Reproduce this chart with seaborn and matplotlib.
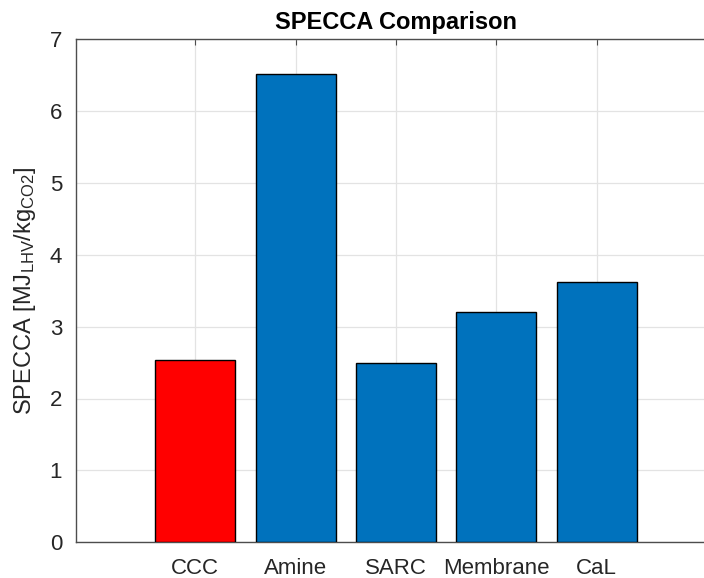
import matplotlib
matplotlib.use("Agg")
import matplotlib.pyplot as plt
import seaborn as sns
import pandas as pd

categories = ["CCC", "Amine", "SARC", "Membrane", "CaL"]
specca = [2.53, 6.51, 2.50, 3.20, 3.62]
bar_colors = ["#FF0000", "#0072BD", "#0072BD", "#0072BD", "#0072BD"]
y_ticks = [0, 1, 2, 3, 4, 5, 6, 7]

sns.set_style("white")
plt.rcParams["font.family"] = ["Liberation Sans", "DejaVu Sans"]
plt.rcParams["mathtext.fontset"] = "custom"
plt.rcParams["mathtext.rm"] = "Liberation Sans"
plt.rcParams["mathtext.it"] = "Liberation Sans:italic"
plt.rcParams["mathtext.bf"] = "Liberation Sans:bold"

df = pd.DataFrame({"tech": categories, "specca": specca})

fig = plt.figure(figsize=(7.04, 5.78), dpi=100)
ax = fig.add_axes([76 / 704, (578 - 542.3) / 578, 640 / 704, (542.3 - 39) / 578])

sns.barplot(data=df, x="tech", y="specca", hue="tech", palette=bar_colors,
            legend=False, width=0.8, saturation=1, edgecolor="black",
            linewidth=1.0, ax=ax, zorder=3)

ax.set_xlim(-1.19, 5.19)
ax.set_ylim(0, 7)
ax.set_yticks(y_ticks)
ax.set_xticks(range(len(categories)))
ax.set_xticklabels(categories)

ax.grid(True, color="#e3e3e3", linewidth=0.9, zorder=0)
ax.set_axisbelow(True)

for side in ["left", "bottom", "top", "right"]:
    ax.spines[side].set_visible(True)
    ax.spines[side].set_color("#4d4d4d")
    ax.spines[side].set_linewidth(1.0)

ax.tick_params(axis="both", direction="in", length=4, width=0.8,
               colors="#4d4d4d", labelcolor="#262626", labelsize=16,
               top=True, right=True)
ax.tick_params(axis="x", pad=11)
ax.tick_params(axis="y", pad=10)

ax.set_xlabel("")
ax.set_ylabel(r"SPECCA [MJ$_{\mathrm{LHV}}$/kg$_{\mathrm{CO2}}$]",
              fontsize=17, color="#262626", labelpad=8)
ax.set_title("SPECCA Comparison", fontsize=17, fontweight="bold",
             color="black", pad=7)

fig.savefig("out.png", dpi=100)
